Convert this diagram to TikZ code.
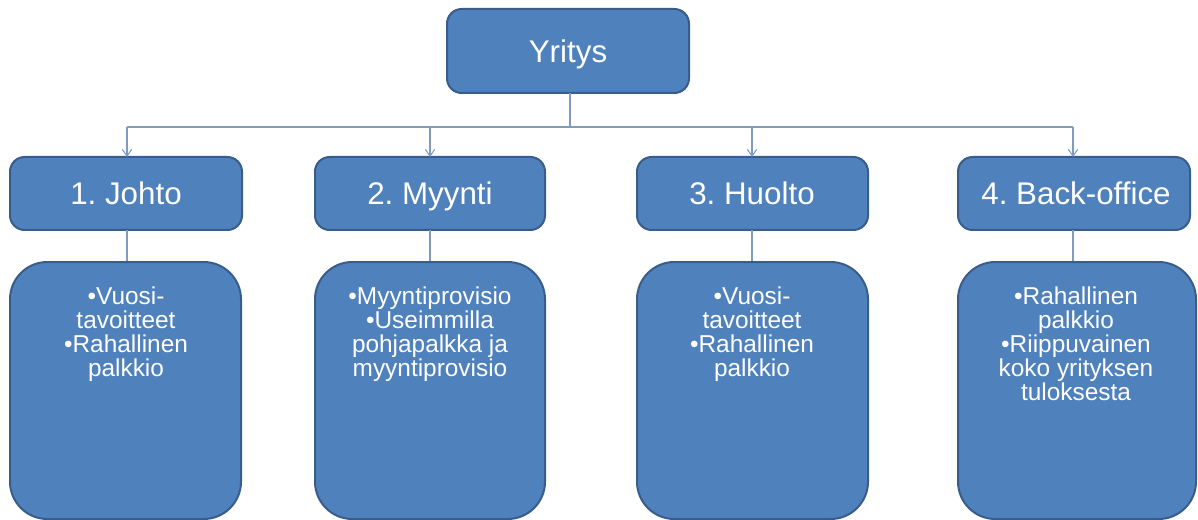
\documentclass[tikz,border=0pt]{standalone}
\usepackage{fontspec}
\setmainfont{Liberation Sans}
\usetikzlibrary{arrows.meta}
\definecolor{boxfill}{HTML}{4F81BD}
\definecolor{boxline}{HTML}{385D8A}
\definecolor{conn}{HTML}{7F9CC0}
\frenchspacing
\begin{document}
\begin{tikzpicture}[x=0.75pt,y=-0.75pt,
  topbox/.style={draw=boxline,line width=1.5pt,fill=boxfill,rounded corners=11pt},
  lowbox/.style={draw=boxline,line width=1.5pt,fill=boxfill,rounded corners=28pt},
  headtxt/.style={text=white,font=\fontsize{23.5}{26}\selectfont,inner sep=0pt,anchor=base},
  bodytxt/.style={text=white,font=\fontsize{18.3}{18}\selectfont,align=center,anchor=north,inner sep=0pt},
  link/.style={draw=conn,line width=0.8pt},
  arr/.style={link,-{Straight Barb[length=5pt,width=7pt,line width=0.8pt]}}]
\useasboundingbox (0,0) rectangle (1198,520);
% top
\draw[topbox] (447,9) rectangle (689,93);
\node[headtxt] (top) at (568,63) {Yritys};
\coordinate (topb) at (570,93);
\coordinate (bus) at (570,127);
% level 2 boxes
\draw[topbox] (10,157) rectangle (242,230);
\draw[topbox] (315,157) rectangle (545,230);
\draw[topbox] (637,157) rectangle (868,230);
\draw[topbox] (958,157) rectangle (1190,230);
\node[headtxt] (h1) at (126,205) {1. Johto};
\node[headtxt] (h2) at (430,205) {2. Myynti};
\node[headtxt] (h3) at (752,205) {3. Huolto};
\node[headtxt] (h4) at (1076,205) {4. Back-office};
\coordinate (t1) at (127,157); \coordinate (t2) at (430,157);
\coordinate (t3) at (752,157); \coordinate (t4) at (1073,157);
\coordinate (b1) at (127,230); \coordinate (b2) at (430,230);
\coordinate (b3) at (752,230); \coordinate (b4) at (1073,230);
\coordinate (l1) at (127,262); \coordinate (l2) at (430,262);
\coordinate (l3) at (752,262); \coordinate (l4) at (1073,262);
% connectors
\draw[link] (topb) -- (bus);
\draw[link] (t1 |- bus) -- (t4 |- bus);
\draw[arr] (t1 |- bus) -- (t1);
\draw[arr] (t2 |- bus) -- (t2);
\draw[arr] (t3 |- bus) -- (t3);
\draw[arr] (t4 |- bus) -- (t4);
\draw[link] (b1) -- (l1);
\draw[link] (b2) -- (l2);
\draw[link] (b3) -- (l3);
\draw[link] (b4) -- (l4);
% lower boxes
\draw[lowbox] (10,262) rectangle (241,519);
\draw[lowbox] (315,262) rectangle (545,519);
\draw[lowbox] (637,262) rectangle (868,519);
\draw[lowbox] (958,262) rectangle (1196,519);
\node[bodytxt] (c1) at (126,287) {•Vuosi-\\tavoitteet\\•Rahallinen\\palkkio};
\node[bodytxt] (c2) at (430,287) {•Myyntiprovisio\\•Useimmilla\\pohjapalkka ja\\myyntiprovisio};
\node[bodytxt] (c3) at (752,287) {•Vuosi-\\tavoitteet\\•Rahallinen\\palkkio};
\node[bodytxt] (c4) at (1076,287) {•Rahallinen\\palkkio\\•Riippuvainen\\koko yrityksen\\tuloksesta};
\end{tikzpicture}
\end{document}
